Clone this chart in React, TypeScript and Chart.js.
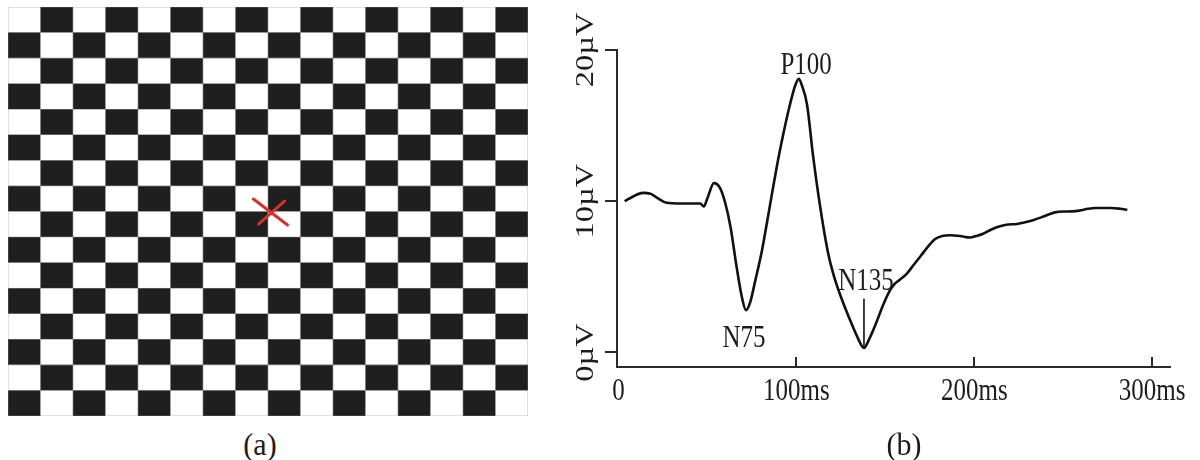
import React, { useEffect, useRef } from "react";
import { Chart, registerables } from "chart.js";

Chart.register(...registerables);

// ---------- Panel (a): checkerboard stimulus ----------
const BOARD_ROWS = [
  "WBWBWBWBWBWBWBWB",
  "BWBWBWBWBWBWBWBW",
  "WBWBWBWBWBWBWBWB",
  "BWBWBWBWBWBWBWBW",
  "WBWBWBWBWBWBWBWB",
  "BWBWBWBWBWBWBWBW",
  "WBWBWBWBWBWBWBWB",
  "BWBWBWBWBWBWBWBW",
  "WBWBWBWBWBWBWBWB",
  "BWBWBWBWBWBWBWBW",
  "WBWBWBWBWBWBWBWB",
  "BWBWBWBWBWBWBWBW",
  "WBWBWBWBWBWBWBWB",
  "BWBWBWBWBWBWBWBW",
  "WBWBWBWBWBWBWBWB",
  "BWBWBWBWBWBWBWBW",
];
const CELL_UNIT = 1;
const FIX_ARM_A_X = [7.55, 8.6];
const FIX_ARM_A_Y = [8.49, 7.47];
const FIX_ARM_B_X = [7.71, 8.51];
const FIX_ARM_B_Y = [7.51, 8.41];

// ---------- Panel (b): VEP waveform ----------
const VEP_T = [
  3.5, 8, 13.8, 18, 22, 27, 35, 46, 48, 50,
  53.7, 57, 60, 63, 66.5, 69.5, 71.7, 74, 77, 80.6,
  83.5, 86.3, 89.5, 92.4, 96, 99.5, 101.4, 103, 106, 109.3,
  113.3, 117.8, 121, 125.6, 130, 134, 138, 141, 145, 149,
  152.6, 155, 158, 162, 166, 170, 174, 178, 182, 186.4,
  192, 197.6, 201, 205, 209, 213, 218, 224, 228, 233,
  238, 242.4, 246, 250, 255, 259, 264, 268, 273, 277,
  282, 286,
];
const VEP_V = [
  10.0, 10.3, 10.55, 10.5, 10.2, 9.9, 9.85, 9.85, 9.65, 10.2,
  11.2, 10.9, 9.9, 8.3, 5.6, 3.6, 2.8, 3.3, 4.8, 6.7,
  8.6, 10.5, 12.6, 14.3, 16.2, 17.7, 18.1, 17.7, 16.4, 13.1,
  9.7, 6.6, 5.1, 3.5, 2.2, 1.1, 0.3, 0.9, 2.0, 3.2,
  4.1, 4.5, 4.8, 5.2, 5.8, 6.4, 7.0, 7.5, 7.7, 7.75,
  7.7, 7.6, 7.7, 7.85, 8.1, 8.3, 8.45, 8.5, 8.6, 8.75,
  8.95, 9.15, 9.28, 9.32, 9.33, 9.38, 9.5, 9.55, 9.55, 9.55,
  9.5, 9.43,
];
const N135_MARK_T = [138, 138];
const N135_MARK_V = [0.3, 3.55];
const PEAK_NAMES = ["N75", "P100", "N135"];
const PEAK_T = [70.6, 105.5, 139.1];
const PEAK_V = [0.34, 18.43, 4.1];
const X_TICKS = [0, 100, 200, 300];
const X_TICK_LABELS = ["0", "100ms", "200ms", "300ms"];
const Y_TICKS = [0, 10, 20];
const Y_TICK_LABELS = ["0µV", "10µV", "20µV"];
const CAPTIONS = ["(a)", "(b)"];

// ---------- styles ----------
const FONT = '"Liberation Serif", "Times New Roman", serif';
const TEXT_SIZE = 25;
const TEXT_STRETCH = 1.3;
const TEXT_COLOR = "#1c1c1c";
const AXIS_COLOR = "#2a2a2a";
const TRACE_COLOR = "#111111";
const CELL_BLACK = "#1f1f1f";
const CELL_WHITE = "#ffffff";
const CELL_EDGE = "#8a8a8a";
const FIX_RED = "#d4322e";

function drawText(ctx: CanvasRenderingContext2D, text: string, x: number, y: number, rotated: boolean) {
  ctx.save();
  ctx.translate(x, y);
  ctx.scale(1, TEXT_STRETCH);
  if (rotated) ctx.rotate(-Math.PI / 2);
  ctx.font = `${TEXT_SIZE}px ${FONT}`;
  ctx.textAlign = "center";
  ctx.textBaseline = "alphabetic";
  ctx.fillStyle = TEXT_COLOR;
  ctx.fillText(text, 0, 0);
  ctx.restore();
}

function BoardChart() {
  const ref = useRef<HTMLCanvasElement | null>(null);
  useEffect(() => {
    if (!ref.current) return;
    const rows = [...BOARD_ROWS].reverse();
    const rowSets: any[] = rows.map((row) => {
      const cells = row.split("");
      return {
        type: "bar",
        stack: "board",
        data: cells.map((_, c) => ({ x: c + 0.5, y: CELL_UNIT })),
        backgroundColor: cells.map((ch) => (ch === "B" ? CELL_BLACK : CELL_WHITE)),
        borderColor: CELL_EDGE,
        borderWidth: 0.6,
        borderSkipped: false,
        barPercentage: 1,
        categoryPercentage: 1,
      };
    });
    const arm = (xs: number[], ys: number[], key: string) => ({
      type: "line",
      stack: key,
      order: -1,
      data: xs.map((x, i) => ({ x, y: ys[i] })),
      borderColor: FIX_RED,
      borderWidth: 3,
      borderCapStyle: "round",
      pointRadius: 0,
      tension: 0,
    });
    const chart = new Chart(ref.current, {
      type: "bar",
      data: {
        datasets: [arm(FIX_ARM_A_X, FIX_ARM_A_Y, "fixA"), arm(FIX_ARM_B_X, FIX_ARM_B_Y, "fixB"), ...rowSets],
      },
      options: {
        responsive: false,
        animation: false,
        events: [],
        layout: { padding: 0 },
        plugins: { legend: { display: false }, tooltip: { enabled: false } },
        scales: {
          x: { type: "linear", min: 0, max: 16, offset: false, stacked: true, display: false, ticks: { stepSize: 4 } },
          y: { type: "linear", min: 0, max: 16, stacked: true, display: false },
        },
      } as any,
    } as any);
    return () => chart.destroy();
  }, []);
  return (
    <div style={{ position: "absolute", left: 8, top: 7, width: 520, height: 409 }}>
      <canvas ref={ref} width={520} height={409} />
    </div>
  );
}

const vepTextPlugin = {
  id: "vepText",
  afterDraw(chart: any) {
    const { ctx, chartArea, scales } = chart;
    const xs = scales.x;
    const ys = scales.y;
    ctx.save();
    ctx.strokeStyle = AXIS_COLOR;
    ctx.lineWidth = 2;
    X_TICKS.forEach((t) => {
      const px = Math.round(xs.getPixelForValue(t));
      if (px - chartArea.left < 4) return;
      ctx.beginPath();
      ctx.moveTo(px, chartArea.bottom);
      ctx.lineTo(px, chartArea.bottom - 10);
      ctx.stroke();
    });
    ctx.restore();
    X_TICKS.forEach((t, i) => drawText(ctx, X_TICK_LABELS[i], xs.getPixelForValue(t), chartArea.bottom + 33, false));
    Y_TICKS.forEach((v, i) => drawText(ctx, Y_TICK_LABELS[i], chartArea.left - 24, ys.getPixelForValue(v), true));
    PEAK_NAMES.forEach((n, i) =>
      drawText(ctx, n, xs.getPixelForValue(PEAK_T[i]), ys.getPixelForValue(PEAK_V[i]), false)
    );
  },
};

function VepChart() {
  const ref = useRef<HTMLCanvasElement | null>(null);
  useEffect(() => {
    if (!ref.current) return;
    const chart = new Chart(ref.current, {
      type: "line",
      data: {
        datasets: [
          {
            data: VEP_T.map((t, i) => ({ x: t, y: VEP_V[i] })),
            borderColor: TRACE_COLOR,
            borderWidth: 2.6,
            pointRadius: 0,
            cubicInterpolationMode: "monotone",
            borderJoinStyle: "round",
          },
          {
            data: N135_MARK_T.map((t, i) => ({ x: t, y: N135_MARK_V[i] })),
            borderColor: TRACE_COLOR,
            borderWidth: 1.6,
            pointRadius: 0,
            tension: 0,
          },
        ],
      },
      options: {
        responsive: false,
        animation: false,
        events: [],
        layout: { padding: { left: 0, top: 50, right: 30, bottom: 0 } },
        plugins: { legend: { display: false }, tooltip: { enabled: false } },
        scales: {
          x: {
            type: "linear",
            min: -0.8,
            max: 310,
            afterBuildTicks: (axis: any) => {
              axis.ticks = X_TICKS.map((v) => ({ value: v }));
            },
            afterFit: (axis: any) => {
              axis.height = 93;
            },
            ticks: { display: false },
            grid: { display: true, drawOnChartArea: false, drawTicks: false, color: AXIS_COLOR, lineWidth: 2 },
            border: { display: true, color: AXIS_COLOR, width: 2 },
          },
          y: {
            type: "linear",
            min: -0.96,
            max: 20,
            afterBuildTicks: (axis: any) => {
              axis.ticks = Y_TICKS.map((v) => ({ value: v }));
            },
            afterFit: (axis: any) => {
              axis.width = 57;
            },
            ticks: { display: false },
            grid: { display: true, drawOnChartArea: false, drawTicks: true, tickLength: 12, color: AXIS_COLOR, lineWidth: 2 },
            border: { display: true, color: AXIS_COLOR, width: 2 },
          },
        },
      } as any,
      plugins: [vepTextPlugin],
    } as any);
    return () => chart.destroy();
  }, []);
  return (
    <div style={{ position: "absolute", left: 560, top: 0, width: 640, height: 460 }}>
      <canvas ref={ref} width={640} height={460} />
    </div>
  );
}

function Caption({ text, cx, cy }: { text: string; cx: number; cy: number }) {
  return (
    <div
      style={{
        position: "absolute",
        left: cx - 60,
        top: cy - 20,
        width: 120,
        height: 40,
        lineHeight: "40px",
        textAlign: "center",
        fontFamily: FONT,
        fontSize: 30,
        color: TEXT_COLOR,
        transform: "scaleY(1.08)",
      }}
    >
      {text}
    </div>
  );
}

export default function App() {
  return (
    <div
      style={{
        position: "fixed",
        left: 0,
        top: 0,
        width: 1200,
        height: 460,
        background: "#ffffff",
        overflow: "hidden",
      }}
    >
      <BoardChart />
      <VepChart />
      <Caption text={CAPTIONS[0]} cx={260} cy={444} />
      <Caption text={CAPTIONS[1]} cx={904} cy={444} />
    </div>
  );
}
